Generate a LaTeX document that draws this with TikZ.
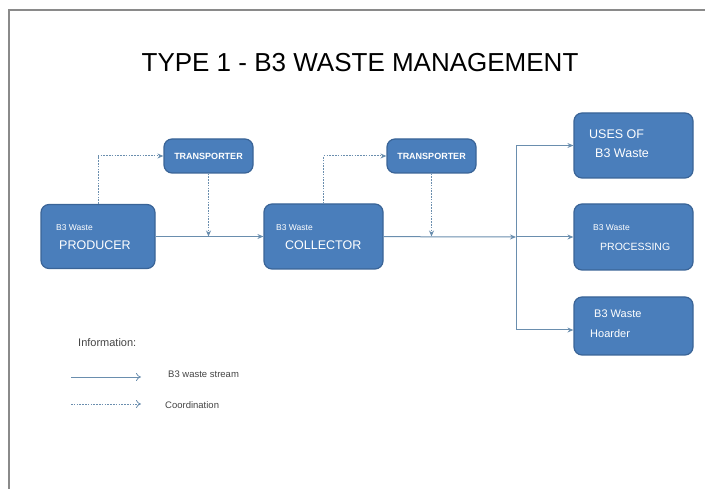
\documentclass[tikz,border=0pt]{standalone}
\usepackage{fontspec}
\setmainfont{Liberation Sans}
\usetikzlibrary{arrows.meta}
\usetikzlibrary{positioning}
\definecolor{boxblue}{HTML}{4A7EBB}
\definecolor{boxedge}{HTML}{3A6497}
\definecolor{linkblue}{HTML}{6A8EAE}
\definecolor{framegray}{HTML}{8A8A8A}
\definecolor{legendgray}{HTML}{444444}
\tikzset{box/.style = {draw = boxedge, fill = boxblue, rounded corners = 8, line width = 1.2, inner sep = 0}}
\tikzset{boxtxt/.style = {text = white, anchor = base west, inner sep = 0}}
\tikzset{legtxt/.style = {text = legendgray, anchor = base west, inner sep = 0}}
\tikzset{flow/.style = {draw = linkblue, line width = 1, -{Stealth[length = 6, width = 5]}}}
\tikzset{coordline/.style = {flow, dash pattern = on 1.6pt off 1.2pt}}

\begin{document}
\begin{tikzpicture}[x = 1pt, y = -1pt]
      \useasboundingbox (0, 0) rectangle (705, 489);
      % frame
      \draw [framegray, line width = 1.5] (9, 489) -- (9, 10) -- (705, 10);
      \node [font = \fontsize{26}{30}\selectfont] (title) at (360, 63) {TYPE 1 - B3 WASTE MANAGEMENT};

      % boxes
      \node [box, minimum width = 114, minimum height = 64] (prod) at (98, 236.5) {};
      \node [box, minimum width = 119, minimum height = 65] (coll) at (323.5, 236.5) {};
      \foreach \n/\x in {tr1/208.5, tr2/431.5} {
        \node [box, minimum width = 89, minimum height = 34, text = white,
          font = \bfseries\fontsize{9}{10}\selectfont] (\n) at (\x, 156) {TRANSPORTER};
      }
      \foreach \n/\y/\h in {uses/145.5/65, proc/237/66, hoard/326/58} {
        \node [box, minimum width = 119, minimum height = \h] (\n) at (633.5, \y) {};
      }

      % box texts
      \node [boxtxt, font = \fontsize{8.5}{10}\selectfont] (prodtop) at (56, 231) {B3 Waste};
      \node [boxtxt, font = \fontsize{12.5}{14}\selectfont] (prodbot) at (59, 250) {PRODUCER};
      \node [boxtxt, font = \fontsize{8.5}{10}\selectfont] (colltop) at (276, 231) {B3 Waste};
      \node [boxtxt, font = \fontsize{12.5}{14}\selectfont] (collbot) at (285, 250) {COLLECTOR};
      \node [boxtxt, font = \fontsize{12.5}{14}\selectfont] (usestop) at (589, 138.5) {USES OF};
      \node [boxtxt, font = \fontsize{12.5}{14}\selectfont] (usesbot) at (595, 158) {B3 Waste};
      \node [boxtxt, font = \fontsize{8.5}{10}\selectfont] (proctop) at (593, 230.5) {B3 Waste};
      \node [boxtxt, font = \fontsize{10.5}{12}\selectfont] (procbot) at (600, 251) {PROCESSING};
      \node [boxtxt, font = \fontsize{11}{13}\selectfont] (hoardtop) at (594, 317.5) {B3 Waste};
      \node [boxtxt, font = \fontsize{11}{13}\selectfont] (hoardbot) at (590, 337.5) {Hoarder};

      % connectors
      \coordinate (bus) at (516, 237);
      \draw [flow] (prod) -- (coll);
      \draw [flow] (coll) -- (bus);
      \draw [coordline] (prod.north) |- (tr1.west);
      \draw [coordline] (coll.north) |- (tr2.west);
      \draw [coordline] (tr1.south) -- (tr1.south |- prod.east);
      \draw [coordline] (tr2.south) -- (tr2.south |- coll.east);
      \draw [flow] (bus) |- (uses.west);
      \draw [flow] (bus) -- (proc.west);
      \draw [flow] (bus) |- ([yshift = -4]hoard.west);

      % legend
      \node [legtxt, font = \fontsize{11}{13}\selectfont] (info) at (78, 347) {Information:};
      \coordinate (sa) at (71, 377);
      \coordinate (sb) at (141, 377);
      \coordinate (da) at (71, 404);
      \coordinate (db) at (141, 404);
      \draw [draw = linkblue, line width = 0.8, -{To[length = 5, width = 8]}] (sa) -- (sb);
      \draw [draw = linkblue, line width = 0.8, dash pattern = on 1.6pt off 1.2pt, -{To[length = 5, width = 8]}] (da) -- (db);
      \node [legtxt, font = \fontsize{9.5}{11}\selectfont] (stream) at (168, 377.5) {B3 waste stream};
      \node [legtxt, font = \fontsize{9.5}{11}\selectfont] (coord) at (165, 408.5) {Coordination};
    \end{tikzpicture}
\end{document}
